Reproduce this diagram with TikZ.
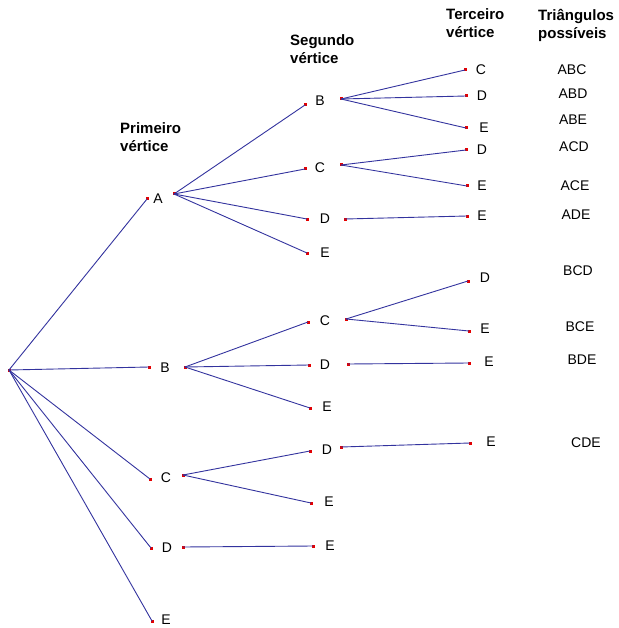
\documentclass[tikz,border=0pt]{standalone}
\usepackage{fontspec}
\setmainfont{Liberation Sans}
\usepackage{tikz}

\begin{document}
\begin{tikzpicture}
[x=1pt,y=-1pt,line cap=round,
% Styles
dot/.style={fill=dotcolor,inner sep=0pt,minimum size=3pt},
vlabel/.style={inner sep=0pt,font=\fontsize{14}{16}\selectfont},
head/.style={inner sep=0pt,anchor=north west,align=left,font=\fontsize{15}{18}\selectfont\bfseries},
edge/.style={draw=edgecolor,line width=0.9pt}]
% Colors
\colorlet{dotcolor}{red!90!black}
\definecolor{edgecolor}{rgb}{0.2,0.2,0.62}
\path[use as bounding box] (0,0) rectangle (618,628);
% Column heads
\node[head] (h1) at (120,122) {Primeiro\\vértice};
\node[head] (h2) at (290,34) {Segundo\\vértice};
\node[head] (h3) at (446,8) {Terceiro\\vértice};
\node[head] (h4) at (538,9) {Triângulos\\possíveis};
% Vertices: name / dot in / label position / letter
\node[dot] (r o) at (9,370) {};
\foreach \n/\xi/\yi/\xl/\yl/\t in {
A/147/199/158/199/A, B/149/367/165/368/B, C/150/479/166/478/C, D/151/548/167/548/D, E/152/621/166/620/E,
AB/305/105/320/101/B, AC/305/169/320/168/C, AD/307/219/325/219/D, AE/307/253/325/253/E,
BC/308/322/325/321/C, BD/309/365/325/365/D, BE/310/408/327/407/E,
CD/310/451/327/450/D, CE/311/503/329/502/E, DE/313/546/330/546/E,
ABC/465/70/481/70/C, ABD/466/96/482/96/D, ABE/466/128/484/128/E,
ACD/466/150/482/150/D, ACE/467/186/482/186/E, ADE/467/216/482/216/E,
BCD/468/281/485/278/D, BCE/469/331/485/329/E, BDE/469/363/489/362/E, CDE/470/443/491/442/E}
{
\node[dot] (\n\space i) at (\xi,\yi) {};
\node[vlabel] (\n) at (\xl,\yl) {\t};
}
% Dots on the right of the branching vertices
\foreach \n/\xo/\yo in {A/174/194, B/185/367, C/183/475, D/183/547,
AB/341/99, AC/341/165, AD/345/219, BC/346/319, BD/348/364, CD/341/447}
\node[dot] (\n\space o) at (\xo,\yo) {};
% Branches
\foreach \a/\b in {r/A, r/B, r/C, r/D, r/E,
A/AB, A/AC, A/AD, A/AE, AB/ABC, AB/ABD, AB/ABE, AC/ACD, AC/ACE, AD/ADE,
B/BC, B/BD, B/BE, BC/BCD, BC/BCE, BD/BDE,
C/CD, C/CE, CD/CDE, D/DE}
\draw[edge] (\a\space o.center) -- (\b\space i.center);
% Triangles
\foreach \t/\x/\y in {ABC/572/70, ABD/573/94, ABE/573/120, ACD/574/147, ACE/575/186,
ADE/576/215, BCD/578/271, BCE/580/327, BDE/582/360, CDE/586/443}
\node[vlabel] (t\t) at (\x,\y) {\t};
\end{tikzpicture}
\end{document}
